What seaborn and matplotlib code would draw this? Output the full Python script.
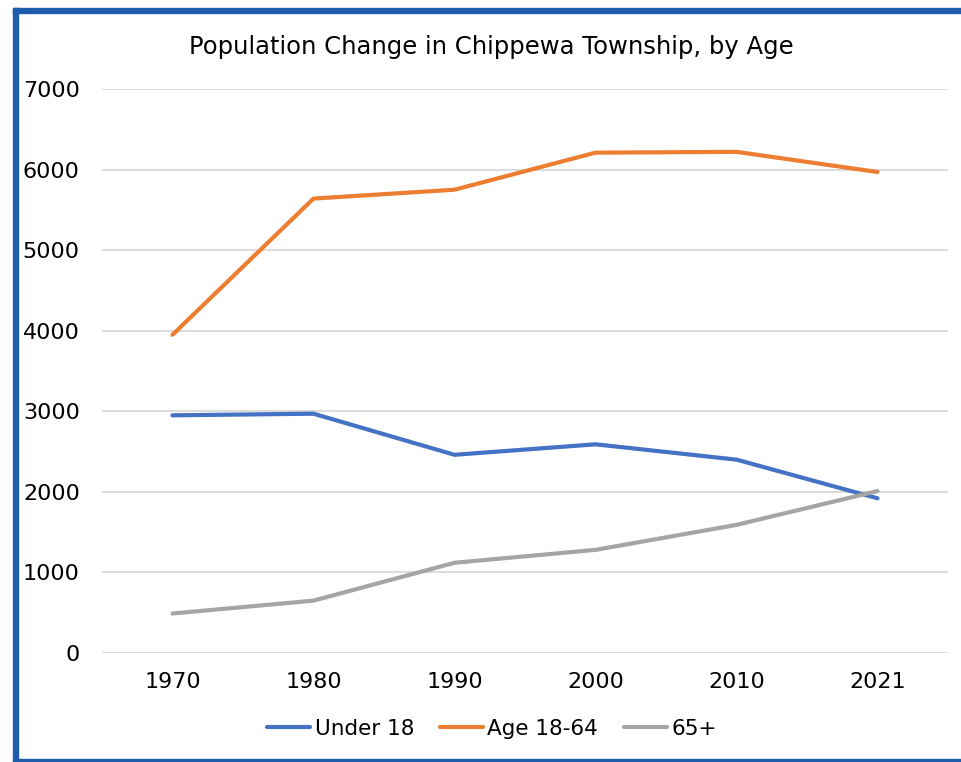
import matplotlib
matplotlib.use("Agg")
import matplotlib.pyplot as plt
from matplotlib.patches import Rectangle
import seaborn as sns
import pandas as pd

years = ["1970", "1980", "1990", "2000", "2010", "2021"]
under_18 = [2950, 2970, 2460, 2590, 2400, 1920]
age_18_64 = [3950, 5640, 5750, 6210, 6220, 5970]
age_65_plus = [490, 650, 1120, 1280, 1590, 2010]
series_names = ["Under 18", "Age 18-64", "65+"]
series_colors = ["#4472C4", "#ED7D31", "#A5A5A5"]
y_ticks = [0, 1000, 2000, 3000, 4000, 5000, 6000, 7000]

df = pd.DataFrame({
    "Year": years * 3,
    "Population": under_18 + age_18_64 + age_65_plus,
    "Group": [series_names[0]] * 6 + [series_names[1]] * 6 + [series_names[2]] * 6,
})

sns.set_theme(style="white")
plt.rcParams["font.family"] = ["DejaVu Sans"]
plt.rcParams["text.color"] = "black"

W, H = 961, 762
fig = plt.figure(figsize=(W / 100, H / 100), dpi=100)
ax = fig.add_axes([102 / W, 1 - 653 / H, (948 - 102) / W, (653 - 89) / H])

sns.lineplot(data=df, x="Year", y="Population", hue="Group",
             palette=dict(zip(series_names, series_colors)),
             hue_order=series_names, sort=False, linewidth=3.0,
             solid_capstyle="round", ax=ax, legend=False)

ax.set_xlim(-0.5, len(years) - 0.5)
ax.set_ylim(0, 7000)
ax.set_yticks(y_ticks)
ax.set_yticklabels([str(v) for v in y_ticks])
ax.set_xlabel("")
ax.set_ylabel("")
ax.yaxis.grid(True, color="#D9D9D9", linewidth=1.3)
ax.set_axisbelow(True)
for s in ax.spines.values():
    s.set_visible(False)
ax.tick_params(axis="both", length=0, labelsize=16, colors="black")
ax.tick_params(axis="y", pad=16)
ax.tick_params(axis="x", pad=14)

fig.text(491 / W, 1 - 47 / H, "Population Change in Chippewa Township, by Age",
         ha="center", va="center", fontsize=17.5, color="black")

handles = [plt.Line2D([], [], color=c, linewidth=3.0, solid_capstyle="round")
           for c in series_colors]
leg = fig.legend(handles, series_names, loc="center", bbox_to_anchor=(492 / W, 1 - 729 / H),
                 ncol=3, frameon=False, fontsize=15.5, handlelength=2.0,
                 handletextpad=0.2, columnspacing=1.2)
for t in leg.get_texts():
    t.set_color("black")

# blue frame around the chart
border = "#1F5CAB"
fig.patches.append(Rectangle((13 / W, 1 - 13 / H), 1, 5 / H, transform=fig.transFigure,
                             color=border, zorder=10))
fig.patches.append(Rectangle((13 / W, 1 - 762 / H), 4.5 / W, (762 - 8) / H,
                             transform=fig.transFigure, color=border, zorder=10))
fig.patches.append(Rectangle((13 / W, 1 - 761 / H), 1, 2 / H, transform=fig.transFigure,
                             color=border, zorder=10))

fig.savefig("out.png", dpi=100)
